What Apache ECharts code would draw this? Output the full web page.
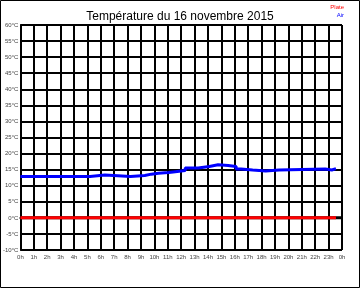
<!DOCTYPE html>
<html><head><meta charset="utf-8">
<script src="https://cdn.jsdelivr.net/npm/echarts@6/dist/echarts.min.js"></script>
<style>html,body{margin:0;padding:0;background:#fff}#c{width:360px;height:288px}</style>
</head><body><div id="c"></div>
<script>
var titleText = 'Température du 16 novembre 2015';
var legendNames = ['Plate', 'Air'];
var hourTicks = ['0h','1h','2h','3h','4h','5h','6h','7h','8h','9h','10h','11h','12h','13h','14h','15h','16h','17h','18h','19h','20h','21h','22h','23h','0h'];
var airHours = [0, 5.2, 6.3, 8.22, 9.28, 9.77, 10.3, 11.05, 11.4, 12.3, 13.27, 14.1, 14.75, 15.5, 16.1, 16.47, 17.33, 18.3, 19.3, 22.75, 23.24, 23.55];
var airTemps = [12.85, 13.3, 12.85, 13.2, 13.6, 13.9, 14.1, 14.3, 14.7, 15.5, 16.0, 16.5, 16.3, 16.0, 15.2, 14.9, 14.6, 14.9, 15.2, 14.9, 15.3, 15.3];
var plateHours = [0, 23.55];
var plateTemps = [0, 0];
var zeroHours = [0, 24];
var zeroTemps = [0, 0];

function pairs(xs, ys){ return xs.map(function(x,i){ return [x, ys[i]]; }); }

var chart = echarts.init(document.getElementById('c'), null, {renderer:'canvas'});
chart.setOption({
  animation: false,
  backgroundColor: '#fff',
  title: {text: titleText, left: 'center', top: 6, textStyle: {fontFamily: 'Liberation Sans, Arial', fontSize: 12, fontWeight: 'normal', color: '#000'}},
  grid: {left: 17, right: 18, top: 25, bottom: 38, containLabel: false},
  xAxis: {type: 'value', min: 0, max: 24, interval: 1,
    axisLine: {show: true, lineStyle: {color: '#000', width: 2}},
    axisTick: {show: false},
    splitLine: {show: true, lineStyle: {color: '#000', width: 2}},
    axisLabel: {fontSize: 6, color: '#444', fontFamily: 'Liberation Sans, Arial', margin: 4,
      formatter: function(v){ return hourTicks[Math.round(v)]; }}},
  yAxis: {type: 'value', min: -10, max: 60, interval: 5,
    axisLine: {show: true, lineStyle: {color: '#000', width: 2}},
    axisTick: {show: false},
    splitLine: {show: true, lineStyle: {color: '#000', width: 2}},
    axisLabel: {fontSize: 6, color: '#444', fontFamily: 'Liberation Sans, Arial', margin: 2,
      formatter: function(v){ return v + '°C'; }}},
  series: [
    {name: 'zero', type: 'line', data: pairs(zeroHours, zeroTemps), symbol: 'none', lineStyle: {color: '#000', width: 3}, z: 1},
    {name: legendNames[0], type: 'line', data: pairs(plateHours, plateTemps), symbol: 'none', lineStyle: {color: '#ff0000', width: 3}, z: 2},
    {name: legendNames[1], type: 'line', step: 'end', data: pairs(airHours, airTemps), symbol: 'none', lineStyle: {color: '#0000ff', width: 3}, z: 3}
  ],
  graphic: [
    {type: 'rect', shape: {x: 0.5, y: 0.5, width: 359, height: 287}, style: {fill: 'none', stroke: '#000', lineWidth: 1}, silent: true, z: 100},
    {type: 'text', right: 16, top: 4, style: {text: legendNames[0], fill: '#ff0000', fontSize: 6, fontFamily: 'Liberation Sans, Arial'}},
    {type: 'text', right: 16, top: 12, style: {text: legendNames[1], fill: '#0000ff', fontSize: 6, fontFamily: 'Liberation Sans, Arial'}}
  ]
});
</script></body></html>
